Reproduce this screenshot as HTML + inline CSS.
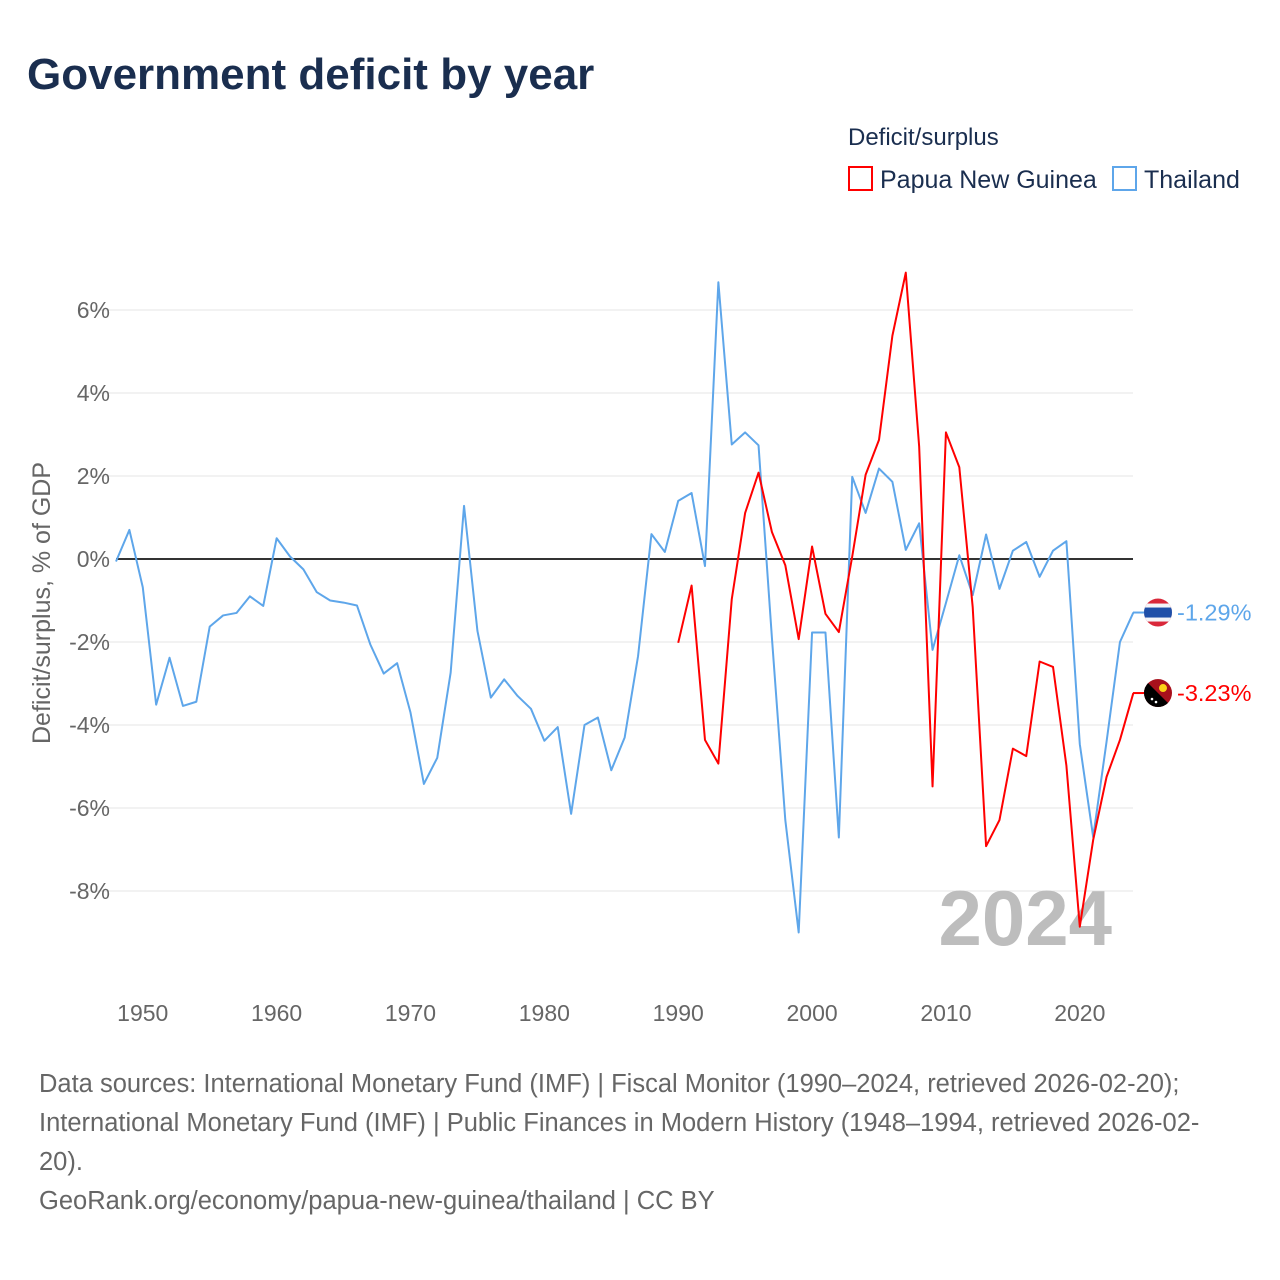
<!DOCTYPE html>
<html><head><meta charset="utf-8"><style>
body{margin:0;background:#fff;font-family:"Liberation Sans",sans-serif;}
#wrap{position:relative;width:1280px;height:1280px;overflow:hidden;}
.t{position:absolute;white-space:nowrap;}
</style></head><body>
<div id="wrap">
<div class="t" style="left:27px;top:50px;font-size:44px;font-weight:bold;color:#1a2e4f;">Government deficit by year</div>
<div class="t" style="left:848px;top:124px;font-size:24px;color:#1a2e4f;">Deficit/surplus</div>
<div class="t" style="left:848px;top:166px;font-size:25px;color:#1a2e4f;"><span style="display:inline-block;width:21px;height:21px;border:2px solid #f00;vertical-align:-3px;margin-right:7px;"></span>Papua New Guinea</div>
<div class="t" style="left:1112px;top:166px;font-size:25px;color:#1a2e4f;"><span style="display:inline-block;width:21px;height:21px;border:2px solid #5ea6ea;vertical-align:-3px;margin-right:7px;"></span>Thailand</div>
<svg id="chart" width="1280" height="1280" style="position:absolute;left:0;top:0;"></svg>
<div class="t" style="left:39px;top:1065px;font-size:25.5px;line-height:39px;color:#666;">Data sources: International Monetary Fund (IMF) | Fiscal Monitor (1990–2024, retrieved 2026-02-20);<br>International Monetary Fund (IMF) | Public Finances in Modern History (1948–1994, retrieved 2026-02-<br>20).<br>GeoRank.org/economy/papua-new-guinea/thailand | CC BY</div>
</div>
<script>
const thYears=[1948,1949,1950,1951,1952,1953,1954,1955,1956,1957,1958,1959,1960,1961,1962,1963,1964,1965,1966,1967,1968,1969,1970,1971,1972,1973,1974,1975,1976,1977,1978,1979,1980,1981,1982,1983,1984,1985,1986,1987,1988,1989,1990,1991,1992,1993,1994,1995,1996,1997,1998,1999,2000,2001,2002,2003,2004,2005,2006,2007,2008,2009,2010,2011,2012,2013,2014,2015,2016,2017,2018,2019,2020,2021,2022,2023,2024];
const thValues=[-0.06,0.70,-0.68,-3.51,-2.38,-3.54,-3.44,-1.63,-1.36,-1.30,-0.90,-1.13,0.50,0.06,-0.25,-0.80,-1.00,-1.05,-1.12,-2.06,-2.76,-2.51,-3.70,-5.42,-4.79,-2.74,1.28,-1.73,-3.34,-2.90,-3.30,-3.61,-4.38,-4.05,-6.14,-4.00,-3.82,-5.09,-4.30,-2.34,0.60,0.17,1.40,1.59,-0.17,6.67,2.76,3.05,2.74,-1.9,-6.29,-9.00,-1.77,-1.77,-6.71,1.98,1.11,2.18,1.86,0.22,0.86,-2.19,-1.06,0.09,-0.87,0.59,-0.72,0.20,0.41,-0.43,0.20,0.43,-4.46,-6.70,-4.40,-2.00,-1.29];
const pngYears=[1990,1991,1992,1993,1994,1995,1996,1997,1998,1999,2000,2001,2002,2003,2004,2005,2006,2007,2008,2009,2010,2011,2012,2013,2014,2015,2016,2017,2018,2019,2020,2021,2022,2023,2024];
const pngValues=[-2.02,-0.64,-4.36,-4.93,-0.97,1.11,2.08,0.65,-0.15,-1.93,0.30,-1.32,-1.76,0.06,2.03,2.87,5.38,6.90,2.71,-5.48,3.05,2.21,-1.16,-6.92,-6.29,-4.57,-4.75,-2.47,-2.60,-4.98,-8.86,-6.77,-5.25,-4.36,-3.23];
const yTicks=[6,4,2,0,-2,-4,-6,-8];
const xTicks=[1950,1960,1970,1980,1990,2000,2010,2020];

const svg=document.getElementById('chart');
const NS='http://www.w3.org/2000/svg';
const X=y=>116+(y-1948)*13.386;
const Y=v=>559-v*41.5;
function mk(tag,attrs){const e=document.createElementNS(NS,tag);for(const k in attrs)e.setAttribute(k,attrs[k]);svg.appendChild(e);return e;}
yTicks.forEach(t=>{
  if(t!==0){const g=mk('line',{x1:88,x2:1133,y1:Y(t),y2:Y(t),stroke:'#e6e6e6','stroke-width':1});
  
  }
  const l=mk('text',{x:110,y:Y(t)+8,'text-anchor':'end','font-size':23,fill:'#666','font-family':'Liberation Sans, sans-serif'});
  l.textContent=t+'%';
  
  
});
xTicks.forEach(t=>{
  const l=mk('text',{x:X(t),y:1021,'text-anchor':'middle','font-size':23,fill:'#666','font-family':'Liberation Sans, sans-serif'});
  l.textContent=t;
  
  
});
const yt=mk('text',{x:0,y:0,'text-anchor':'middle','font-size':25,fill:'#666','font-family':'Liberation Sans, sans-serif',transform:'translate(50,603) rotate(-90)'});
yt.textContent='Deficit/surplus, % of GDP';


const wm=mk('text',{x:1112,y:945,'text-anchor':'end','font-size':78,'font-weight':'bold',fill:'#bdbdbd','font-family':'Liberation Sans, sans-serif'});
wm.textContent='2024';


const zl=mk('line',{x1:116,x2:1133,y1:Y(0),y2:Y(0),stroke:'#333','stroke-width':2});


function series(ys,vs,color,name){
  const p=mk('polyline',{points:ys.map((y,i)=>X(y)+','+Y(vs[i])).join(' '),fill:'none',stroke:color,'stroke-width':2,'stroke-linejoin':'round'});
  
  
}
series(thYears,thValues,'#5ea6ea','thailand-line');
series(pngYears,pngValues,'#ff0000','png-line');
const thLast=thValues[thValues.length-1], pngLast=pngValues[pngValues.length-1];
const defs=mk('defs',{});
defs.innerHTML='<clipPath id="c1"><circle cx="1158" cy="'+Y(thLast)+'" r="14"/></clipPath><clipPath id="c2"><circle cx="1158" cy="'+Y(pngLast)+'" r="14"/></clipPath>';
const tl=mk('line',{x1:1133,x2:1144,y1:Y(thLast),y2:Y(thLast),stroke:'#5ea6ea','stroke-width':2});


const pl=mk('line',{x1:1133,x2:1144,y1:Y(pngLast),y2:Y(pngLast),stroke:'#f00','stroke-width':2});


const f1=mk('g',{'clip-path':'url(#c1)'});


const cy1=Y(thLast);
f1.innerHTML='<rect x="1144" y="'+(cy1-14)+'" width="28" height="28" fill="#d9283a"/><rect x="1144" y="'+(cy1-9)+'" width="28" height="18" fill="#f4f5f8"/><rect x="1144" y="'+(cy1-5)+'" width="28" height="10" fill="#1f4fa8"/>';
const f2=mk('g',{'clip-path':'url(#c2)'});


const cy2=Y(pngLast);
f2.innerHTML='<rect x="1144" y="'+(cy2-14)+'" width="28" height="28" fill="#a8101c"/><polygon points="1144,'+(cy2-14)+' 1144,'+(cy2+14)+' 1172,'+(cy2+14)+'" fill="#000"/><circle cx="1163" cy="'+(cy2-5)+'" r="4" fill="#fcd116"/><circle cx="1152" cy="'+(cy2+6)+'" r="1.3" fill="#fff"/><circle cx="1156" cy="'+(cy2+9)+'" r="1.3" fill="#fff"/>';
const lt=mk('text',{x:1177,y:Y(thLast)+8,'font-size':23.5,fill:'#5ea6ea','font-family':'Liberation Sans, sans-serif'});
lt.textContent=thLast.toFixed(2)+'%';


const lp=mk('text',{x:1177,y:Y(pngLast)+8,'font-size':23.5,fill:'#f00','font-family':'Liberation Sans, sans-serif'});
lp.textContent=pngLast.toFixed(2)+'%';


</script>
</body></html>
